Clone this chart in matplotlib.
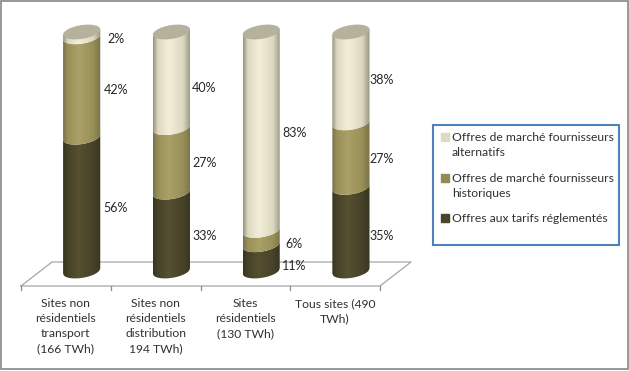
import numpy as np
import matplotlib
matplotlib.use("Agg")
import matplotlib.pyplot as plt
from matplotlib.colors import LinearSegmentedColormap
from matplotlib.patches import Patch, PathPatch, Rectangle
from matplotlib.path import Path

plt.rcParams['font.family'] = ['Lato', 'DejaVu Sans']

categories = ["Sites non\nrésidentiels\ntransport\n(166 TWh)",
              "Sites non\nrésidentiels\ndistribution\n194 TWh)",
              "Sites\nrésidentiels\n(130 TWh)",
              "Tous sites (490\nTWh)"]
tarifs = [56, 33, 11, 35]
historiques = [42, 27, 6, 27]
alternatifs = [2, 40, 83, 38]
series_names = ["Offres de marché fournisseurs\nalternatifs",
                "Offres de marché fournisseurs\nhistoriques",
                "Offres aux tarifs réglementés"]

W, H = 629, 371
fig = plt.figure(figsize=(W / 100, H / 100), dpi=100, facecolor="white")

# pixel overlay for the frame and the fake 3d floor
bg = fig.add_axes([0, 0, 1, 1])
bg.set_xlim(0, W)
bg.set_ylim(H, 0)
bg.axis("off")
bg.add_patch(Rectangle((1, 0.5), 626.5, 368.5, fill=False, ec="#868686", lw=1.2))
floor_x = [21, 380, 411, 52, 21]
floor_y = [286, 286, 262, 262, 286]
bg.plot(floor_x, floor_y, color="#a6a6a6", lw=0.9)
for x in [21, 110.75, 200.5, 290.25, 380]:
    bg.plot([x, x], [286, 289.5], color="#8c8c8c", lw=0.9)

# x=0..3 -> centre of each category on the front edge, y=0..100 -> cylinder height
y0_px, y100_px = 271, 32
ax = fig.add_axes([21 / W, 1 - y0_px / H, 359 / W, (y0_px - y100_px) / H])
ax.patch.set_alpha(0)

shift = 0.176
half = 0.207
b = 2.9
tilt = 1.1


def shade(edge, mid, peak):
    return LinearSegmentedColormap.from_list(
        "c", [(0, edge), (0.12, mid), (0.42, peak), (0.8, mid), (1, edge)])


cmaps = [shade("#38351f", "#46422a", "#565030"),
         shade("#787348", "#989058", "#aaa068"),
         shade("#97957f", "#dcd8c0", "#f2eed8")]
grad = np.linspace(0, 1, 64).reshape(1, -1)
u = np.linspace(-1, 1, 40)


def edge_curve(level):
    return level - b * np.sqrt(1 - u ** 2) + tilt * u


for i, stack in enumerate(zip(tarifs, historiques, alternatifs)):
    xc = i + shift
    low = 0
    for k, val in enumerate(stack):
        high = low + val
        xs = np.r_[xc + half * u, xc + half * u[::-1]]
        ys = np.r_[edge_curve(low), edge_curve(high)[::-1]]
        # top segment runs up to the cap so no white gap shows
        if k == 2:
            ys = np.r_[edge_curve(low), (high + tilt * u[::-1])]
        path = Path(np.c_[xs, ys])
        im = ax.imshow(grad, cmap=cmaps[k], aspect="auto", zorder=3,
                       extent=(xc - half, xc + half, low - b - 2, high + 2))
        patch = PathPatch(path, fc="none", ec="none", transform=ax.transData, clip_on=False)
        ax.add_patch(patch)
        im.set_clip_path(patch)
        im.set_clip_box(fig.bbox)
        low = high
    cap_t = np.linspace(0, 2 * np.pi, 60)
    cap_x = xc + half * np.cos(cap_t)
    cap_y = 100 + b * np.sin(cap_t) + tilt * np.cos(cap_t)
    ax.fill(cap_x, cap_y, color="#b5b19d", lw=0, zorder=4, clip_on=False)

# percent labels: segment middle plus a small hand offset (px)
label_dx = [34, 33, 33, 31]
label_dy = [[-4, -3, -5], [-4, -3, -8], [-8, -6, -2], [-7, -4, -3]]
for i, stack in enumerate(zip(tarifs, historiques, alternatifs)):
    low = 0
    for k, val in enumerate(stack):
        ax.annotate(f"{val}%", (i + shift, low + val / 2),
                    xytext=(label_dx[i], label_dy[i][k]), textcoords="offset pixels",
                    ha="center", va="center", fontsize=9, color="#262626",
                    annotation_clip=False, zorder=5)
        low += val

ax.set_xlim(-0.5, 3.5)
ax.set_ylim(0, 100)
ax.set_xticks(range(4))
ax.set_xticklabels(categories, fontsize=8.7, color="#303030", linespacing=1.46)
ax.tick_params(axis="x", length=0, pad=19.5)
ax.set_yticks([])
for s in ax.spines.values():
    s.set_visible(False)

# legend box
bg.add_patch(Rectangle((433, 125), 186, 120, fc="white", ec="#4f81bd", lw=1.5))
handles = [Patch(color="#ddd9c3"), Patch(color="#948a54"), Patch(color="#4a452a")]
leg = bg.legend(handles, series_names, loc="upper left", bbox_to_anchor=(437.5 / W, 1 - 128.5 / H),
                bbox_transform=fig.transFigure, frameon=False, fontsize=8.7, labelcolor="#303030",
                handlelength=0.62, handleheight=0.62, handletextpad=0.25, labelspacing=1.2,
                borderpad=0.3, borderaxespad=0)
for t in leg.get_texts():
    t.set_linespacing(1.46)
# two-line entries: swatch sits on the first line
for h in leg.legend_handles[:2]:
    h.set_y(h.get_y() + 5.8)

fig.savefig("out.png", dpi=100)
